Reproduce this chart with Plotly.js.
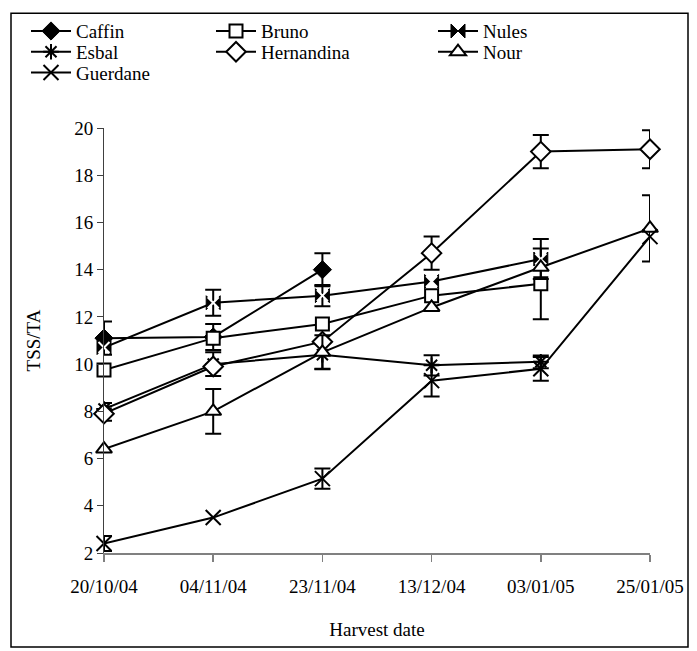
<!DOCTYPE html>
<html><head><meta charset="utf-8">
<script src="https://cdn.plot.ly/plotly-3.0.1.min.js"></script>
<style>html,body{margin:0;padding:0;background:#fff}</style>
</head><body><div id="chart" style="width:697px;height:651px"></div>
<script>
// ---- data ----
const dates = ['20/10/04','04/11/04','23/11/04','13/12/04','03/01/05','25/01/05'];
const caffin        = [11.1, 11.15, 14.0, null, null, null];
const caffinErr     = [0.7, 0.55, 0.7, NaN, NaN, NaN];
const bruno         = [9.75, 11.1, 11.7, 12.9, 13.4, null];
const brunoErr      = [NaN, NaN, NaN, NaN, 1.5, NaN];
const nules         = [10.7, 12.6, 12.9, 13.5, 14.45, null];
const nulesErr      = [NaN, 0.55, 0.45, NaN, 0.85, NaN];
const esbal         = [8.1, 10.0, 10.4, 9.95, 10.1, null];
const esbalErr      = [0.25, 0.5, 0.6, 0.43, 0.27, NaN];
const hernandina    = [7.9, 9.9, 10.95, 14.7, 19.0, 19.1];
const hernandinaErr = [0.3, NaN, NaN, 0.7, 0.7, 0.8];
const nour          = [6.4, 8.0, 10.5, 12.4, 14.1, 15.75];
const nourErr       = [NaN, 0.95, 0.72, NaN, NaN, 1.4];
const guerdane      = [2.4, 3.5, 5.15, 9.3, 9.8, 15.4];
const guerdaneErr   = [0.32, NaN, 0.43, 0.67, 0.5, NaN];

// ---- layout geometry (pixels) ----
const W = 697, H = 651, L = 104, R = 650, T = 123, B = 553;
const px2x = p => (p - L) / (R - L);
const py2y = p => (B - p) / (B - T);
const FONT = 'Liberation Serif';
const FS = 19;

const lineStyle = {color: 'black', width: 2};
function err(arr) {
  return {type: 'data', array: arr, visible: true, color: 'black', thickness: 2, width: 8};
}
function tr(name, y, e, marker, legend) {
  return {type: 'scatter', mode: 'lines+markers', name: name, x: dates, y: y,
    line: lineStyle, marker: marker, error_y: err(e), cliponaxis: false, legend: legend};
}

const traces = [
  tr('Caffin', caffin, caffinErr, {symbol: 'diamond', size: 14, color: 'black', line: {color: 'black', width: 1}}, 'legend'),
  tr('Bruno', bruno, brunoErr, {symbol: 'square', size: 13, color: 'white', line: {color: 'black', width: 2}}, 'legend2'),
  tr('Nules', nules, nulesErr, {symbol: 'bowtie', size: 14, color: 'black', line: {color: 'black', width: 1}}, 'legend3'),
  {type: 'scatter', mode: 'markers', x: dates, y: nules, showlegend: false, hoverinfo: 'skip', cliponaxis: false,
    marker: {symbol: 'x-thin-open', size: 11, color: 'white', line: {color: 'white', width: 2}}},
  tr('Esbal', esbal, esbalErr, {symbol: 'asterisk-open', size: 13, color: 'black', line: {color: 'black', width: 2}}, 'legend4'),
  tr('Hernandina', hernandina, hernandinaErr, {symbol: 'diamond', size: 15, color: 'white', line: {color: 'black', width: 2}}, 'legend5'),
  tr('Nour', nour, nourErr, {symbol: 'triangle-up', size: 14, color: 'white', line: {color: 'black', width: 2}}, 'legend6'),
  tr('Guerdane', guerdane, guerdaneErr, {symbol: 'x-thin-open', size: 15, color: 'black', line: {color: 'black', width: 2}}, 'legend7')
];

function leg(xpx, ypx) {
  return {x: px2x(xpx), y: py2y(ypx), xanchor: 'left', yanchor: 'middle', bgcolor: 'rgba(0,0,0,0)',
    borderwidth: 0, itemwidth: 40, font: {family: FONT, size: FS, color: 'black'}, itemclick: false};
}
const colX = [26, 211, 433];
const rowY = [25, 46, 67];

const layout = {
  width: W, height: H,
  margin: {l: L, r: W - R, t: T, b: H - B, pad: 0},
  paper_bgcolor: 'white', plot_bgcolor: 'white',
  font: {family: FONT, size: FS, color: 'black'},
  showlegend: true,
  legend: leg(colX[0], rowY[0]),
  legend2: leg(colX[1], rowY[0]),
  legend3: leg(colX[2], rowY[0]),
  legend4: leg(colX[0], rowY[1]),
  legend5: leg(colX[1], rowY[1]),
  legend6: leg(colX[2], rowY[1]),
  legend7: leg(colX[0], rowY[2]),
  xaxis: {type: 'category', range: [0, 5], showline: true, linecolor: '#808080', linewidth: 2,
    ticks: 'outside', ticklen: 7, tickwidth: 1.5, tickcolor: '#808080', showgrid: false, zeroline: false,
    ticklabelstandoff: 8, tickfont: {family: FONT, size: FS, color: 'black'},
    title: {text: 'Harvest date', font: {family: FONT, size: FS, color: 'black'}, standoff: 27}},
  yaxis: {range: [2, 20], dtick: 2, showline: true, linecolor: '#404040', linewidth: 1,
    ticks: 'outside', ticklen: 6, tickwidth: 1, tickcolor: '#404040', showgrid: false, zeroline: false,
    tickfont: {family: FONT, size: FS, color: 'black'},
    title: {text: 'TSS/TA', font: {family: FONT, size: FS, color: 'black'}, standoff: 28}},
  shapes: [{type: 'rect', xref: 'paper', yref: 'paper', x0: px2x(11), x1: px2x(688), y0: py2y(648), y1: py2y(7),
    line: {color: 'black', width: 1.5}, fillcolor: 'rgba(0,0,0,0)', layer: 'below'}]
};

Plotly.newPlot('chart', traces, layout, {displayModeBar: false, staticPlot: true});
</script>
</body></html>
